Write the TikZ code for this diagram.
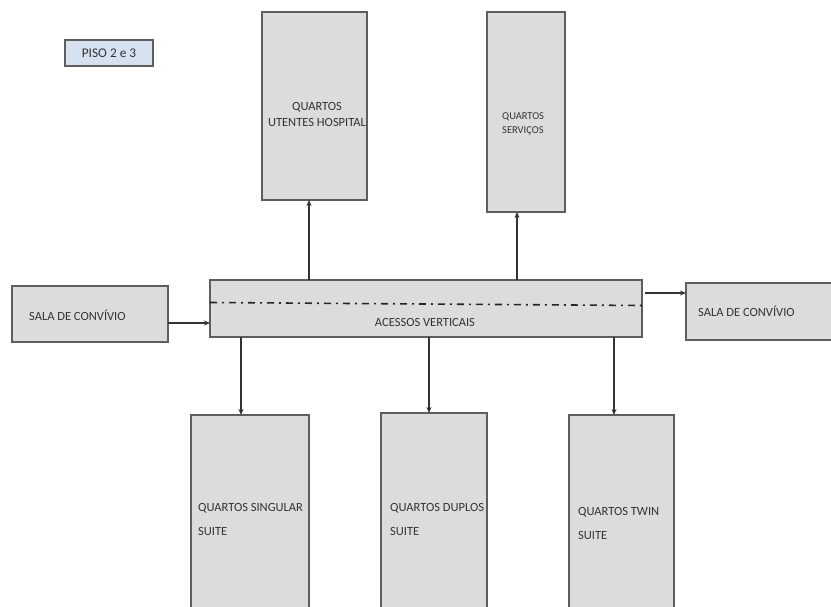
\documentclass[tikz,border=0pt]{standalone}
\usepackage{fontspec}
\setmainfont{Carlito}
\usetikzlibrary{arrows.meta,positioning,calc}
\definecolor{BoxFill}{HTML}{DCDCDC}
\definecolor{BoxLine}{HTML}{5E5E5E}
\definecolor{TagFill}{HTML}{D6E2EF}
\definecolor{TextGrey}{HTML}{333333}

\begin{document}
\begin{tikzpicture}[x=1pt,y=-1pt,>=Stealth,
  room/.style={draw=BoxLine,fill=BoxFill,line width=1.5pt,anchor=north west,
    inner sep=0pt,outer sep=0pt},
  lbl/.style={text=TextGrey,font=\fontsize{12.5}{15}\selectfont,inner sep=0pt},
  small/.style={font=\fontsize{10.5}{13.5}\selectfont},
  flow/.style={line width=1.5pt,draw=black!80,
    -{Stealth[length=6pt,width=5pt]}}]
\useasboundingbox (0,0) rectangle (831,606);

% title tag
\node[room,fill=TagFill,minimum width=88,minimum height=26] (tag) at (65,40) {};
\node[lbl,font=\fontsize{13.3}{15}\selectfont] (tagTxt) at (tag.center) {PISO 2 e 3};

% upper rooms
\node[room,minimum width=105,minimum height=188] (utentes) at (262,12) {};
\node[room,minimum width=78,minimum height=200] (servicos) at (487,12) {};
\node[lbl,align=center,font=\fontsize{12.5}{16}\selectfont] (utentesTxt) at (317,114) {QUARTOS\\UTENTES HOSPITAL};
\node[lbl,small,align=left,anchor=west] (servicosTxt) at (502,124) {QUARTOS\\SERVIÇOS};

% central bar
\node[room,minimum width=432,minimum height=57] (acessos) at (210,280) {};
\draw[line width=1.6pt,dash pattern=on 7pt off 5pt on 2pt off 5pt,black!85]
  ($(acessos.west)+(0,-6)$) -- ($(acessos.east)+(0,-3)$);
\node[lbl] (acessosTxt) at (425,322) {ACESSOS VERTICAIS};

% side rooms
\node[room,minimum width=156,minimum height=56] (salaL) at (12,286) {};
\node[room,minimum width=146,minimum height=57] (salaR) at (686,283) {};
\node[lbl,anchor=west] (salaLTxt) at (29,315) {SALA DE CONVÍVIO};
\node[lbl,anchor=west] (salaRTxt) at (698,311) {SALA DE CONVÍVIO};

% lower rooms
\node[room,minimum width=118,minimum height=196] (singular) at (191,415) {};
\node[room,minimum width=106,minimum height=198] (duplos) at (381,413) {};
\node[room,minimum width=105,minimum height=196] (twin) at (569,415) {};
\node[lbl,align=left,anchor=west,font=\fontsize{12.5}{24}\selectfont] (singularTxt) at (198,519) {QUARTOS SINGULAR\\SUITE};
\node[lbl,align=left,anchor=west,font=\fontsize{12.5}{24}\selectfont] (duplosTxt) at (390,519) {QUARTOS DUPLOS\\SUITE};
\node[lbl,align=left,anchor=west,font=\fontsize{12.5}{24}\selectfont] (twinTxt) at (578,523) {QUARTOS TWIN\\SUITE};

% connectors
\draw[flow] (acessos.north -| 309,0) -- (utentes.south -| 309,0);
\draw[flow] (acessos.north -| 517,0) -- (servicos.south -| 517,0);
\draw[flow] ([yshift=-9]salaL.east) -- ([yshift=-9]salaL.east -| acessos.west);
\draw[flow] ([xshift=3,yshift=15.5]acessos.east) -- ([yshift=15.5]acessos.east -| salaR.west);
\draw[flow] (acessos.south -| 241,0) -- (singular.north -| 241,0);
\draw[flow] (acessos.south -| 429,0) -- (duplos.north -| 429,0);
\draw[flow] (acessos.south -| 614,0) -- (twin.north -| 614,0);
\end{tikzpicture}
\end{document}
